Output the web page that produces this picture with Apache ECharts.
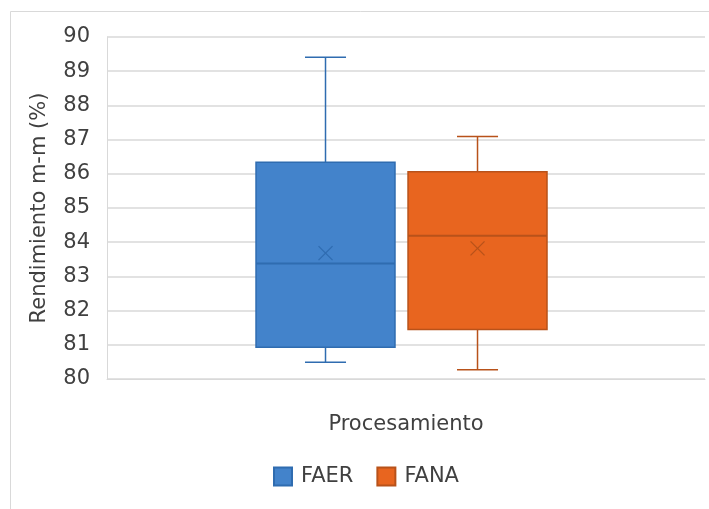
<!DOCTYPE html>
<html><head><meta charset="utf-8">
<script src="https://cdn.jsdelivr.net/npm/echarts@6/dist/echarts.min.js"></script>
<style>html,body{margin:0;padding:0;background:#fff}#c{width:709px;height:509px}</style>
</head><body><div id="c"></div>
<script>
const categories = ['Procesamiento'];
const seriesNames = ['FAER', 'FANA'];
// [min, Q1, median, Q3, max]
const faerStats = [80.49, 80.93, 83.38, 86.34, 89.41];
const faerMean = 83.68;
const fanaStats = [80.27, 81.45, 84.19, 86.06, 87.09];
const fanaMean = 83.82;
const yTicks = [80, 81, 82, 83, 84, 85, 86, 87, 88, 89, 90];

const FONT = '"DejaVu Sans", "Liberation Sans", Arial, sans-serif';
const styles = [
  {fill: '#4383CB', stroke: '#2F6CB0', offset: -0.1346},
  {fill: '#E8651F', stroke: '#B8521A', offset: 0.1196}
];

function makeRender(si) {
  return function (params, api) {
    const st = styles[si];
    const band = api.size([1, 0])[0];
    const x = api.coord([api.value(0), 0])[0] + st.offset * band;
    const w = 0.2324 * band;
    const cap = 0.0686 * band;
    const yMin = api.coord([api.value(0), api.value(1)])[1];
    const yQ1 = api.coord([api.value(0), api.value(2)])[1];
    const yMed = api.coord([api.value(0), api.value(3)])[1];
    const yQ3 = api.coord([api.value(0), api.value(4)])[1];
    const yMax = api.coord([api.value(0), api.value(5)])[1];
    const yMean = api.coord([api.value(0), api.value(6)])[1];
    const ls = {stroke: st.stroke, lineWidth: 1.5, fill: null};
    const m = 7;
    return {
      type: 'group',
      children: [
        {type: 'line', shape: {x1: x, y1: yQ3, x2: x, y2: yMax}, style: ls},
        {type: 'line', shape: {x1: x - cap / 2, y1: yMax, x2: x + cap / 2, y2: yMax}, style: ls},
        {type: 'line', shape: {x1: x, y1: yQ1, x2: x, y2: yMin}, style: ls},
        {type: 'line', shape: {x1: x - cap / 2, y1: yMin, x2: x + cap / 2, y2: yMin}, style: ls},
        {type: 'rect', shape: {x: x - w / 2, y: yQ3, width: w, height: yQ1 - yQ3},
          style: {fill: st.fill, stroke: st.stroke, lineWidth: 1.5}},
        {type: 'line', shape: {x1: x - w / 2, y1: yMed, x2: x + w / 2, y2: yMed}, style: {stroke: st.stroke, lineWidth: 2}},
        {type: 'line', shape: {x1: x - m, y1: yMean - m, x2: x + m, y2: yMean + m}, style: {stroke: st.stroke, lineWidth: 1.3}},
        {type: 'line', shape: {x1: x - m, y1: yMean + m, x2: x + m, y2: yMean - m}, style: {stroke: st.stroke, lineWidth: 1.3}}
      ]
    };
  };
}

const chart = echarts.init(document.getElementById('c'), null, {renderer: 'canvas'});
chart.setOption({
  animation: false,
  backgroundColor: '#fff',
  graphic: [{type: 'rect', shape: {x: 10.5, y: 11.5, width: 720, height: 520},
    style: {fill: null, stroke: '#d9d9d9', lineWidth: 1}, silent: true}],
  grid: {left: 107, right: 4, top: 37, bottom: 130},
  legend: {
    data: seriesNames, top: 466, left: 273, padding: 0, icon: 'rect', itemWidth: 18, itemHeight: 18, itemGap: 23,
    textStyle: {fontFamily: FONT, fontSize: 21, color: '#404040', padding: [0, 0, 0, 4]}
  },
  xAxis: {
    type: 'category', data: categories,
    axisLine: {show: true, lineStyle: {color: '#d9d9d9', width: 1}},
    axisTick: {show: false},
    axisLabel: {margin: 35, fontFamily: FONT, fontSize: 21, color: '#404040'},
    splitLine: {show: false}
  },
  yAxis: {
    type: 'value', min: yTicks[0], max: yTicks[yTicks.length - 1], interval: 1,
    name: 'Rendimiento m-m (%)', nameLocation: 'middle', nameGap: 57,
    nameTextStyle: {fontFamily: FONT, fontSize: 21, color: '#404040'},
    axisLine: {show: true, lineStyle: {color: '#d9d9d9', width: 1}},
    axisTick: {show: false},
    axisLabel: {margin: 17, fontFamily: FONT, fontSize: 21, color: '#404040'},
    splitLine: {show: true, lineStyle: {color: '#d9d9d9', width: 1.5}}
  },
  series: [
    {name: seriesNames[0], type: 'custom', renderItem: makeRender(0),
      itemStyle: {color: styles[0].fill, borderColor: styles[0].stroke, borderWidth: 1},
      encode: {x: 0, y: [1, 2, 3, 4, 5, 6]},
      data: [[0].concat(faerStats, [faerMean])]},
    {name: seriesNames[1], type: 'custom', renderItem: makeRender(1),
      itemStyle: {color: styles[1].fill, borderColor: styles[1].stroke, borderWidth: 1},
      encode: {x: 0, y: [1, 2, 3, 4, 5, 6]},
      data: [[0].concat(fanaStats, [fanaMean])]}
  ]
});
</script></body></html>
